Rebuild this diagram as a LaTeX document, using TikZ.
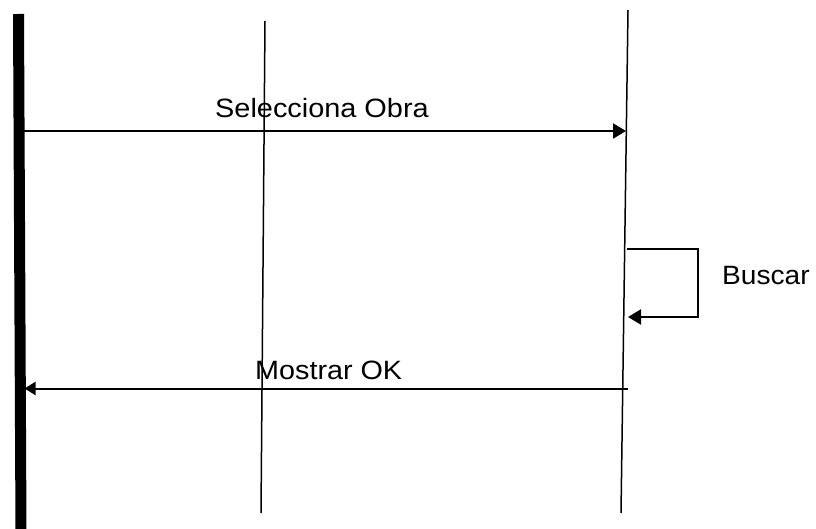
\documentclass[tikz,border=0pt]{standalone}
\usepackage{fontspec}
\setmainfont{Liberation Sans}
\usetikzlibrary{arrows.meta}
\tikzset{
  lifeline/.style={line width=1.5pt, black},
  actorline/.style={line width=11pt, black},
  msg/.style={line width=2pt, black, -{Triangle[length=13pt,width=15pt]}},
  lbl/.style={inner sep=0pt, anchor=base west, font=\fontsize{26.5}{30}\selectfont}
}
\begin{document}
\begin{tikzpicture}[x=1pt,y=-1pt]
\useasboundingbox (0,0) rectangle (816,529);
% lifelines
\coordinate (aTop) at (18.5,14);
\coordinate (aBot) at (21,532);
\coordinate (bTop) at (265,21);
\coordinate (bBot) at (261,513);
\coordinate (cTop) at (628,10);
\coordinate (cBot) at (621,513);
\draw[actorline] (aTop) -- (aBot);
\draw[lifeline] (bTop) -- (bBot);
\draw[lifeline] (cTop) -- (cBot);
% message 1
\coordinate (m1s) at (24,131);
\coordinate (m1e) at (626,131);
\draw[msg] (m1s) -- (m1e);
\node[lbl] (t1) at (215,118) {\scalebox{1.09}[1]{Selecciona Obra}};
% self call
\coordinate (s1) at (626.5,249);
\coordinate (s2) at (698,249);
\coordinate (s3) at (698,317);
\coordinate (s4) at (628,317);
\draw[msg] (s1) -- (s2) -- (s3) -- (s4);
\node[lbl] (t2) at (722,284) {\scalebox{1.06}[1]{Buscar}};
% message 2
\coordinate (m2s) at (628,388.5);
\coordinate (m2e) at (24.5,388.5);
\draw[msg, -{Triangle[length=11pt,width=13pt]}] (m2s) -- (m2e);
\node[lbl] (t3) at (255,379) {\scalebox{1.085}[1]{Mostrar OK}};
\end{tikzpicture}
\end{document}
